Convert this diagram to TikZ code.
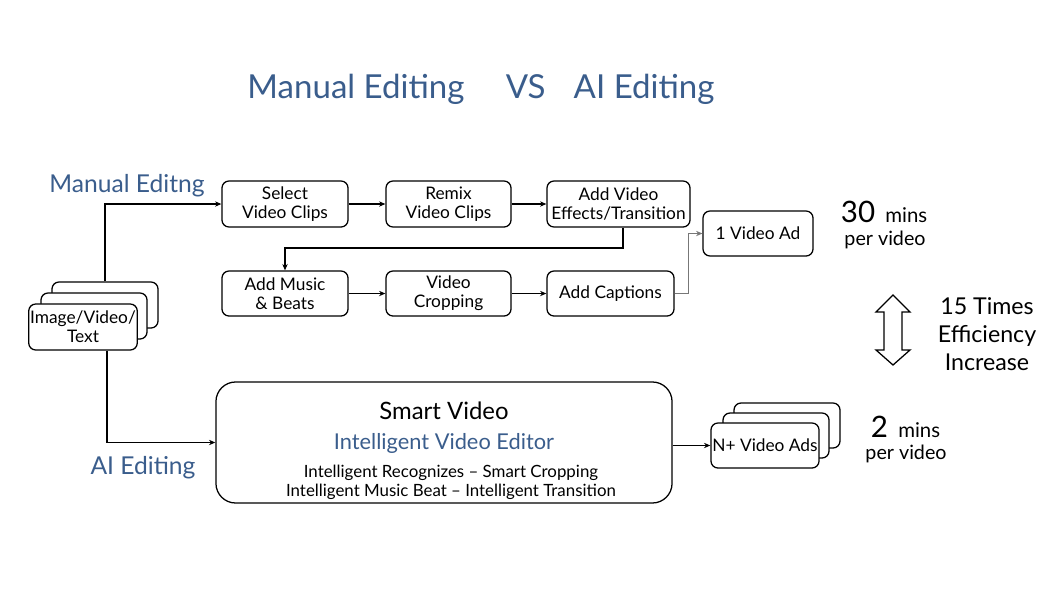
\documentclass[tikz,border=0pt]{standalone}
\usepackage{fontspec}
\setmainfont{Lato}
\usetikzlibrary{arrows.meta}
\definecolor{tblue}{HTML}{3A5D8C}
\definecolor{lgray}{HTML}{777777}
\tikzset{
  box/.style={draw, line width=0.9pt, rounded corners=5pt, align=center, fill=white,
    font=\fontsize{12.3}{13.5}\selectfont, inner sep=1pt},
  conn/.style={line width=0.9pt, -{Stealth[length=4.5pt,width=3.8pt]}},
  bluelbl/.style={text=tblue, font=\fontsize{17.5}{20}\selectfont},
}
\begin{document}
\begin{tikzpicture}[x=0.025cm,y=-0.025cm]
\useasboundingbox (0,0) rectangle (1064,598);
% title
\node (title) at (481,89) {\color{tblue}\fontsize{23.5}{27}\selectfont Manual Editing\hspace{1.25em}VS\hspace{0.85em}AI Editing};
\node[bluelbl] (lblman) at (127,186) {Manual Editng};
\node[bluelbl] (lblai) at (143,468) {AI Editing};
% manual boxes
\node[box, minimum width=3.15cm, minimum height=1.15cm] (sel) at (285,204) {Select\\Video Clips};
\node[box, minimum width=3.125cm, minimum height=1.15cm] (remix) at (448.5,204) {Remix\\Video Clips};
\node[box, minimum width=3.575cm, minimum height=1.15cm] (addv) at (618.5,204) {Add Video\\Effects/Transition};
\node[box, minimum width=2.75cm, minimum height=1.125cm] (one) at (758,233.5) {1 Video Ad};
\node[box, minimum width=3.15cm, minimum height=1.125cm] (music) at (285,293.5) {Add Music\\\& Beats};
\node[box, minimum width=3.125cm, minimum height=1.125cm] (crop) at (448.5,293.5) {Video\\Cropping};
\node[box, minimum width=3.175cm, minimum height=1.125cm] (capt) at (610.5,293.5) {Add Captions};
% input stack
\node[box, minimum width=2.65cm, minimum height=1.15cm] (imgback) at (105,305) {};
\node[box, minimum width=2.65cm, minimum height=1.15cm] (imgmid) at (94,316) {};
\node[box, minimum width=2.65cm, minimum height=1.15cm] (img) at (83,327) {Image/Video/\\Text};
% smart video
\node[draw, line width=0.9pt, rounded corners=14pt, minimum width=11.4cm, minimum height=3.025cm] (smart) at (444,442.5) {};
\node (sv1) at (444,411) {\fontsize{17}{19}\selectfont Smart Video};
\node (sv2) at (444,443) {\color{tblue}\fontsize{15.5}{17}\selectfont Intelligent Video Editor};
\node[align=center, font=\fontsize{12}{13.5}\selectfont] (sv3) at (451,482) {Intelligent Recognizes – Smart Cropping\\Intelligent Music Beat – Intelligent Transition};
% output stack
\node[box, minimum width=2.65cm, minimum height=1.125cm] (nback) at (787,425.5) {};
\node[box, minimum width=2.65cm, minimum height=1.125cm] (nmid) at (776,435.5) {};
\node[box, minimum width=2.65cm, minimum height=1.125cm] (nads) at (765,445.5) {N+ Video Ads};
% connectors
\draw[conn] (imgback.north -| 105,0) |- (sel.west);
\draw[conn] (img.south -| 107,0) |- (smart.west);
\draw[conn] (sel) -- (remix);
\draw[conn] (remix) -- (addv);
\draw[conn] (addv.south -| 623,0) |- (285,248) -- (music.north);
\draw[conn] (music) -- (crop);
\draw[conn] (crop) -- (capt);
\draw[line width=0.7pt, lgray, -{Stealth[length=4.5pt,width=3.8pt]}] (capt.east) -- (688,293.5) |- (one.west);
\draw[conn] (smart.east |- nads.west) -- (nads.west);
% times
\node[anchor=base west] (t30) at (836,222) {\fontsize{21}{24}\selectfont 30\,\fontsize{14.5}{15}\selectfont\ mins};
\node (pv1) at (885,240) {\fontsize{14}{15}\selectfont per video};
\node[anchor=base west] (t2) at (866,437) {\fontsize{21}{24}\selectfont 2\,\fontsize{14.5}{15}\selectfont\ mins};
\node (pv2) at (906,454) {\fontsize{14}{15}\selectfont per video};
\node[align=center, font=\fontsize{16.5}{20}\selectfont] (eff) at (987,334) {15 Times\\Efficiency\\Increase};
% double arrow
\draw[line width=0.9pt, line join=miter] (893,295) -- (910,312) -- (902,312) -- (902,350) -- (910,350) -- (893,365) -- (876,350) -- (884,350) -- (884,312) -- (876,312) -- cycle;
\end{tikzpicture}
\end{document}
